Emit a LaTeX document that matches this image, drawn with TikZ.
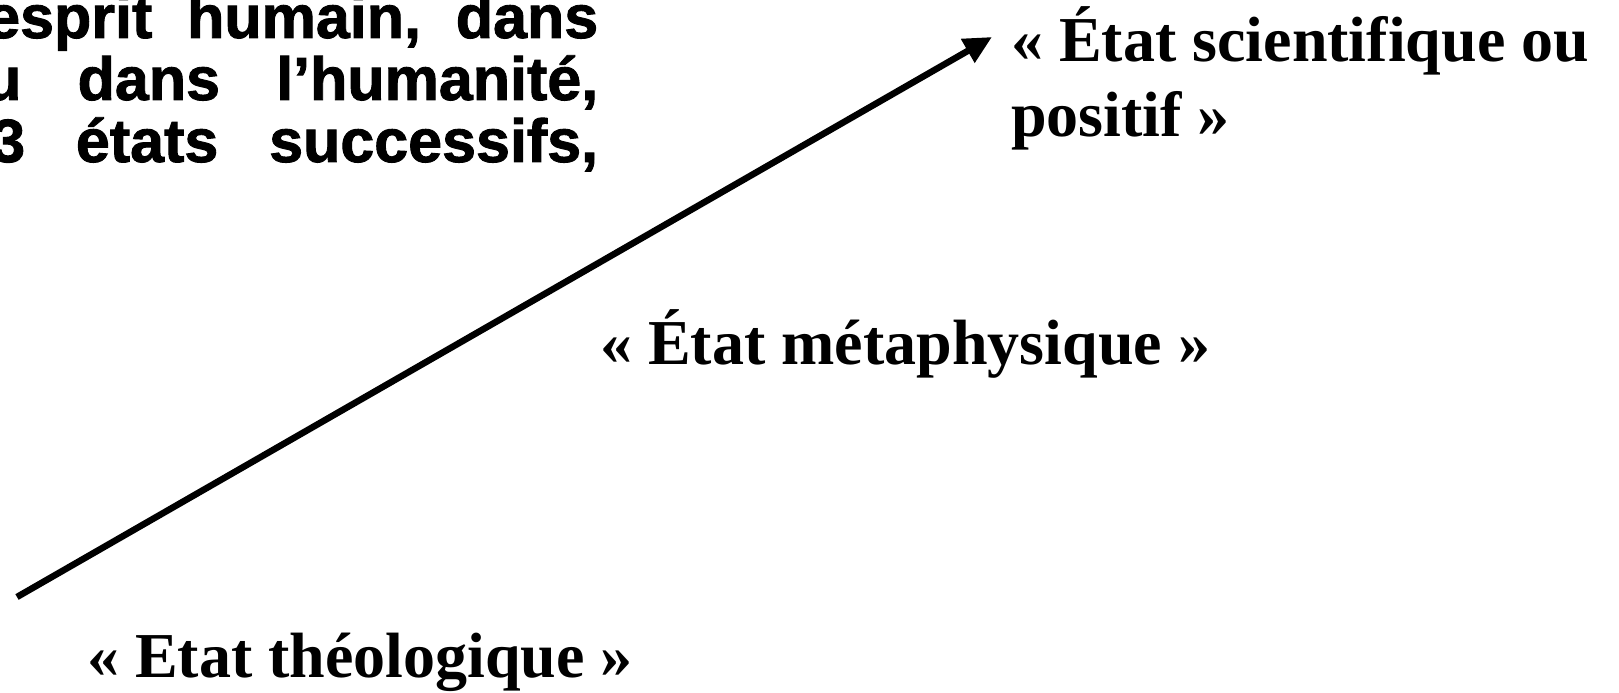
\documentclass[tikz,border=0pt]{standalone}
\usepackage{fontspec}
\setmainfont{Liberation Serif}
\newfontfamily\sansgras{Liberation Sans}[BoldFeatures={FakeBold=1.5}]
\usetikzlibrary{arrows.meta}

\tikzset{
  etat/.style={font=\fontsize{64}{75}\selectfont\bfseries, inner sep=0pt,
    anchor=base west},
  phrase/.style={font=\sansgras\fontsize{61}{62}\selectfont\bfseries,
    inner sep=0pt, anchor=base west},
  fleche/.style={line width=6.5pt, -{Triangle[length=28pt,width=26pt]}}
}

\begin{document}
\begin{tikzpicture}[x=1pt,y=1pt]
\useasboundingbox (0,0) rectangle (1619,693);
\clip (0,0) rectangle (1619,693);

% ===== Texte coupe (haut gauche) =====
\node[phrase, text width=612pt] (ligneA) at (-14,655) {esprit\hfill humain,\hfill dans};
\node[phrase, text width=614pt] (ligneB) at (-16,593) {u\hfill dans\hfill l’humanité,};
\node[phrase, text width=607pt] (ligneC) at (-9,531) {3\hfill états\hfill successifs,};

% ===== Les trois etats =====
\node[etat] (theo) at (87,15) {«~Etat théologique~»};
\node[etat] (meta) at (600,328) {«~État métaphysique~»};
\node[etat] (posiA) at (1011,631) {«~État scientifique ou};
\node[etat] (posiB) at (1011,556) {positif~»};

% ===== Fleche =====
\coordinate (depart) at (17,96);
\coordinate (arrivee) at (992,656);
\draw[fleche] (depart) -- (arrivee);

\end{tikzpicture}
\end{document}
